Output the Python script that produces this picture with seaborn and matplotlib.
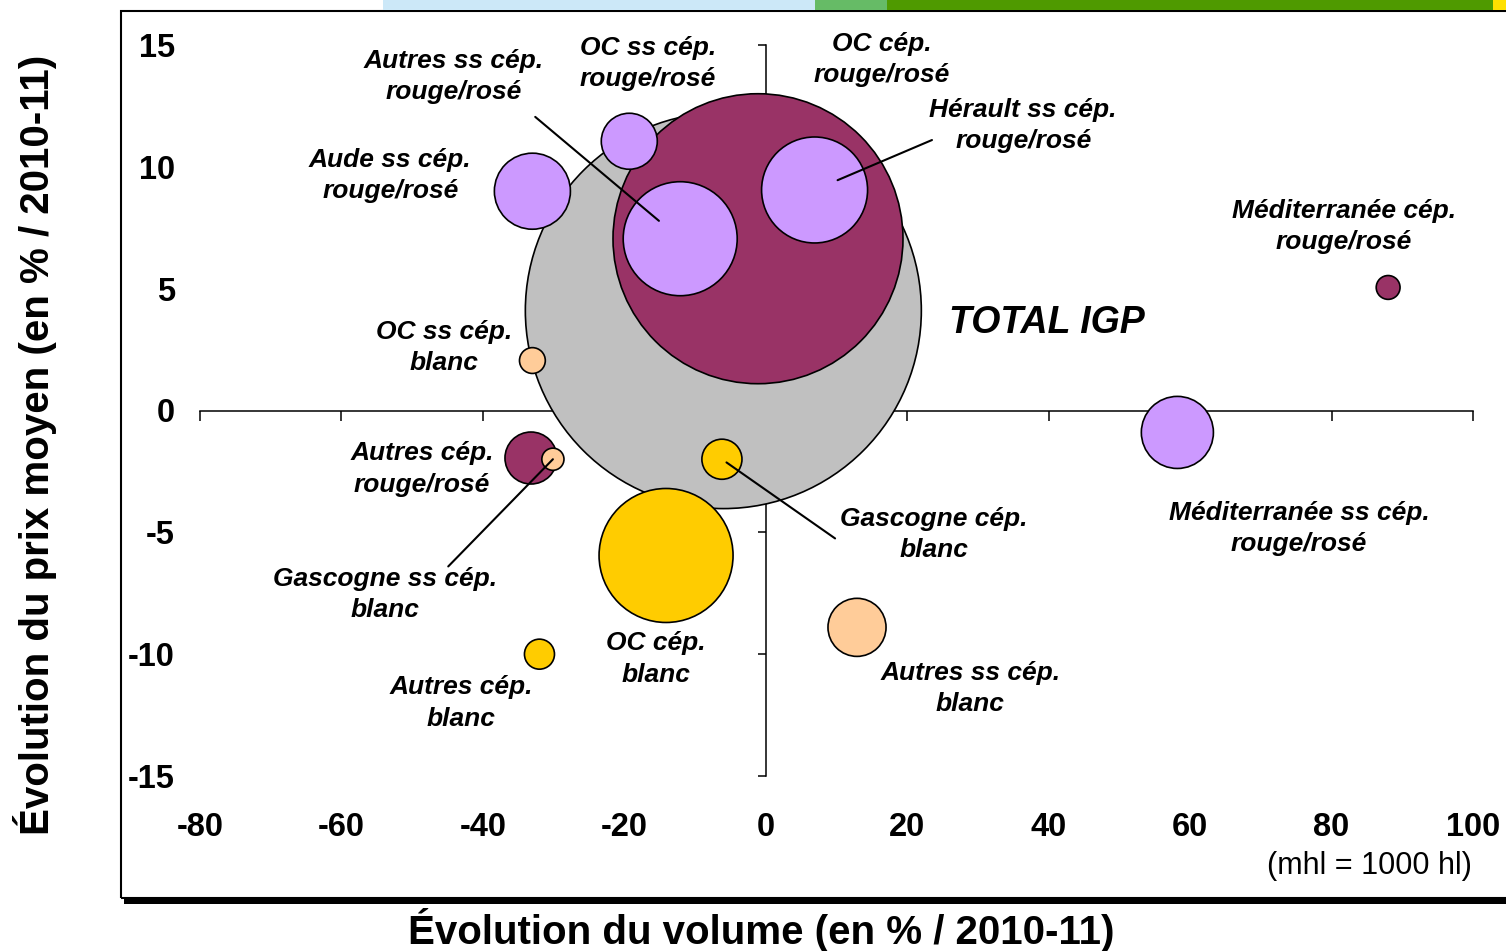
import numpy as np
import pandas as pd
import matplotlib
matplotlib.use("Agg")
import matplotlib.pyplot as plt
from matplotlib.patches import Rectangle
import seaborn as sns

# ---------------------------
# DATA
# ---------------------------
names = [
    "TOTAL IGP",
    "OC cép.\nrouge/rosé",
    "OC cép.\nblanc",
    "Autres ss cép.\nrouge/rosé",
    "Hérault ss cép.\nrouge/rosé",
    "Aude ss cép.\nrouge/rosé",
    "Méditerranée ss cép.\nrouge/rosé",
    "Autres ss cép.\nblanc",
    "OC ss cép.\nrouge/rosé",
    "Autres cép.\nrouge/rosé",
    "Gascogne cép.\nblanc",
    "Autres cép.\nblanc",
    "OC ss cép.\nblanc",
    "Méditerranée cép.\nrouge/rosé",
    "Gascogne ss cép.\nblanc",
]
vol_change = [-6.0, -1.1, -14.1, -12.1, 6.9, -33.0, 58.2, 12.9, -19.3, -33.2, -6.2, -32.0, -33.0, 88.0, -30.1]
price_change = [4.1, 7.05, -5.95, 7.05, 9.05, 9.0, -0.9, -8.9, 11.05, -1.95, -2.0, -10.0, 2.05, 5.05, -2.0]
volume_mhl = [8000, 4290, 916, 663, 573, 295, 265, 172, 160, 138, 82, 46, 34, 29, 25]
groups = ["total", "rouge_cep", "blanc_cep", "rouge_ss", "rouge_ss", "rouge_ss", "rouge_ss", "blanc_ss",
          "rouge_ss", "rouge_cep", "blanc_cep", "blanc_cep", "blanc_ss", "rouge_cep", "blanc_ss"]

x_ticks = [-80, -60, -40, -20, 0, 20, 40, 60, 80, 100]
y_ticks = [-15, -10, -5, 0, 5, 10, 15]

df = pd.DataFrame({"nom": names, "vol": vol_change, "prix": price_change,
                   "volume": volume_mhl, "groupe": groups})

# ---------------------------
# STYLE / LAYOUT
# ---------------------------
colors = {"total": "#C0C0C0", "rouge_cep": "#993366", "rouge_ss": "#CC99FF",
          "blanc_cep": "#FFCC00", "blanc_ss": "#FFCC99"}

label_pos = {
    "TOTAL IGP": (39.8, 3.6),
    "OC cép.\nrouge/rosé": (16.4, 14.4),
    "OC cép.\nblanc": (-15.5, -10.2),
    "Autres ss cép.\nrouge/rosé": (-44.2, 13.7),
    "Hérault ss cép.\nrouge/rosé": (36.4, 11.7),
    "Aude ss cép.\nrouge/rosé": (-53.1, 9.65),
    "Méditerranée ss cép.\nrouge/rosé": (75.4, -4.85),
    "Autres ss cép.\nblanc": (28.9, -11.4),
    "OC ss cép.\nrouge/rosé": (-16.7, 14.25),
    "Autres cép.\nrouge/rosé": (-48.6, -2.4),
    "Gascogne cép.\nblanc": (23.8, -5.1),
    "Autres cép.\nblanc": (-43.1, -12.0),
    "OC ss cép.\nblanc": (-45.5, 2.6),
    "Méditerranée cép.\nrouge/rosé": (81.7, 7.55),
    "Gascogne ss cép.\nblanc": (-53.8, -7.55),
}
# leader line start point and shrink at bubble end (points)
leaders = {
    "Autres ss cép.\nrouge/rosé": ((-32.6, 12.05), 20),
    "Hérault ss cép.\nrouge/rosé": ((23.5, 11.1), 18),
    "Gascogne ss cép.\nblanc": ((-44.9, -6.4), 0),
    "Gascogne cép.\nblanc": ((9.8, -5.25), 4),
}

W, H, DPI = 1506, 951, 100
sns.set_theme(style="white")
plt.rcParams["font.family"] = ["Liberation Sans", "DejaVu Sans"]
plt.rcParams["axes.unicode_minus"] = False
for k in ["text.color", "axes.labelcolor", "xtick.color", "ytick.color"]:
    plt.rcParams[k] = "black"

fig = plt.figure(figsize=(W / DPI, H / DPI), dpi=DPI)
fig.patch.set_facecolor("white")

pos = [200 / W, (H - 776) / H, 1273 / W, 731 / H]

# axes crossing at zero (behind the bubbles)
ax2 = fig.add_axes(pos, zorder=0)
ax2.set_xlim(-80, 100)
ax2.set_ylim(-15, 15)
ax2.patch.set_visible(False)
for s in ["top", "right"]:
    ax2.spines[s].set_visible(False)
for s in ["left", "bottom"]:
    ax2.spines[s].set_position(("data", 0))
    ax2.spines[s].set_linewidth(1.1)
    ax2.spines[s].set_color("black")
ax2.set_xticks(x_ticks)
ax2.set_yticks(y_ticks)
ax2.tick_params(axis="x", direction="out", length=7, width=1.1, color="black",
                bottom=True, labelbottom=False)
ax2.tick_params(axis="y", direction="out", length=6, width=1.1, color="black",
                left=True, labelleft=False)

# main axes with bubbles and tick labels
ax = fig.add_axes(pos, zorder=1)
ax.patch.set_visible(False)

smax = (2 * 198 * 72 / DPI) ** 2
sns.scatterplot(data=df, x="vol", y="prix", hue="groupe", palette=colors,
                size="volume", sizes=(0, smax), size_norm=(0, 8000),
                edgecolor="black", linewidth=1.2, alpha=1, legend=False,
                ax=ax, clip_on=False, zorder=2)

ax.set_xlim(-80, 100)
ax.set_ylim(-15, 15)
ax.set_xticks(x_ticks)
ax.set_yticks(y_ticks)
ax.set_xticklabels([str(v) for v in x_ticks])
ax.set_yticklabels([str(v) for v in y_ticks])
ax.tick_params(axis="x", length=0, pad=26, labelsize=23.5)
ax.tick_params(axis="y", length=0, pad=18, labelsize=23.5)
for lab in ax.get_xticklabels() + ax.get_yticklabels():
    lab.set_fontweight("bold")
for s in ax.spines.values():
    s.set_visible(False)

# labels
for nom in names:
    lx, ly = label_pos[nom]
    big = nom == "TOTAL IGP"
    ax.text(lx, ly, nom, ha="center", va="center", multialignment="center",
            fontsize=27 if big else 19, fontweight="bold", style="italic",
            linespacing=1.38, zorder=5)

for nom, (start, shrink) in leaders.items():
    row = df[df["nom"] == nom].iloc[0]
    ax.annotate("", xy=(row["vol"], row["prix"]), xytext=start,
                arrowprops=dict(arrowstyle="-", color="black", lw=1.5,
                                shrinkA=0, shrinkB=shrink), zorder=5)

ax.set_xlabel("Évolution du volume (en % / 2010-11)", fontsize=29, fontweight="bold")
ax.set_ylabel("Évolution du prix moyen (en % / 2010-11)", fontsize=29, fontweight="bold")
ax.xaxis.set_label_coords((761 - 200) / 1273, (776 - 908) / 731)
ax.yaxis.set_label_coords((57 - 200) / 1273, (776 - 445) / 731)

fig.text(1472 / W, 1 - 866 / H, "(mhl = 1000 hl)", ha="right", va="center", fontsize=22)

# frame around the chart + shadow
fig.add_artist(Rectangle((121 / W, (H - 898) / H), (W - 121) / W + 0.01, (898 - 11) / H,
                         transform=fig.transFigure, fill=False, edgecolor="black",
                         linewidth=1.5, zorder=0))
fig.add_artist(Rectangle((124 / W, (H - 904) / H), (W - 124) / W, 6 / H,
                         transform=fig.transFigure, facecolor="black", edgecolor="none"))

# coloured strip on top
strip = [(383, 815, "#CCE8F8"), (815, 887, "#66BB66"), (887, 1493, "#4F9A00"), (1493, 1506, "#FFE000")]
for x0, x1, c in strip:
    fig.add_artist(Rectangle((x0 / W, (H - 10) / H), (x1 - x0) / W, 10 / H,
                             transform=fig.transFigure, facecolor=c, edgecolor="none"))

fig.savefig("out.png", dpi=DPI, facecolor="white")
